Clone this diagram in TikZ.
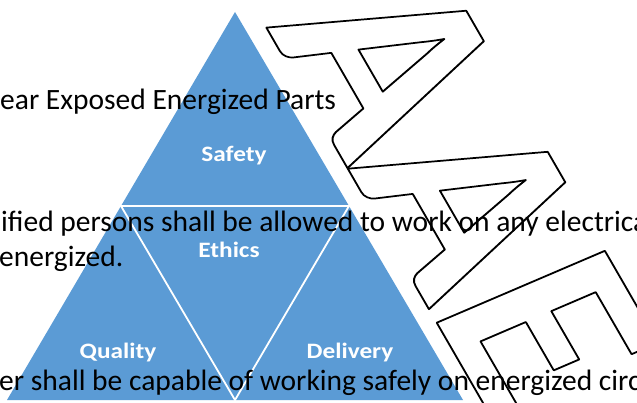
\documentclass[tikz,border=0pt]{standalone}
\usepackage{fontspec}
\setmainfont{Carlito}
\newfontfamily\aaefont{Carlito}[FakeStretch=0.96]
\newfontfamily\labelfont{Carlito}[FakeStretch=1.15]
\definecolor{pyramidblue}{RGB}{91,155,213}
% white letters with a black edge
\newcommand\outlined[1]{{\color{white}\special{pdf:literal direct 2 Tr 1.8 w 0 G 1 j}#1\special{pdf:literal direct 0 Tr}}}

\begin{document}
\begin{tikzpicture}[x=1pt,y=-1pt,
    part/.style={anchor=base, font=\labelfont\bfseries\fontsize{22}{26}\selectfont, text=white},
    textline/.style={anchor=base west, inner sep=0pt, font=\fontsize{29.5}{35}\selectfont}]
    \useasboundingbox (0,0) rectangle (637,403);
    \clip (0,0) rectangle (637,403);

    % draw triangle
    \coordinate (top) at (235,12);
    \coordinate (left) at (7,400);
    \coordinate (right) at (463,400);
    \fill[pyramidblue] (top) -- (left) -- (right) -- cycle;

    % draw inner triangle
    \coordinate (midL) at (121,206);
    \coordinate (midR) at (349,206);
    \coordinate (midB) at (235,400);
    \draw[white, line width=1.8pt] (midL) -- (midR) -- (midB) -- cycle;

    % draw nodes
    \node[part] (safety) at (234,162) {Safety};
    \node[part] (ethics) at (229,258) {Ethics};
    \node[part] (quality) at (118,358) {Quality};
    \node[part] (delivery) at (350,358) {Delivery};

    % draw watermark
    \node[anchor=base west, inner sep=0pt, rotate=-60, xslant=0.12,
        font=\aaefont\bfseries\fontsize{280}{282}\selectfont] (aae) at (266,27) {\outlined{AAE}};

    % draw text lines
    \node[textline] (near) at (0,110) {ear Exposed Energized Parts};
    \node[textline] (qualified) at (1,232) {ified persons shall be allowed to work on any electrica};
    \node[textline] (energized) at (-1,267) {energized.};
    \node[textline] (worker) at (-1,390) {er shall be capable of working safely on energized circ};
\end{tikzpicture}
\end{document}
